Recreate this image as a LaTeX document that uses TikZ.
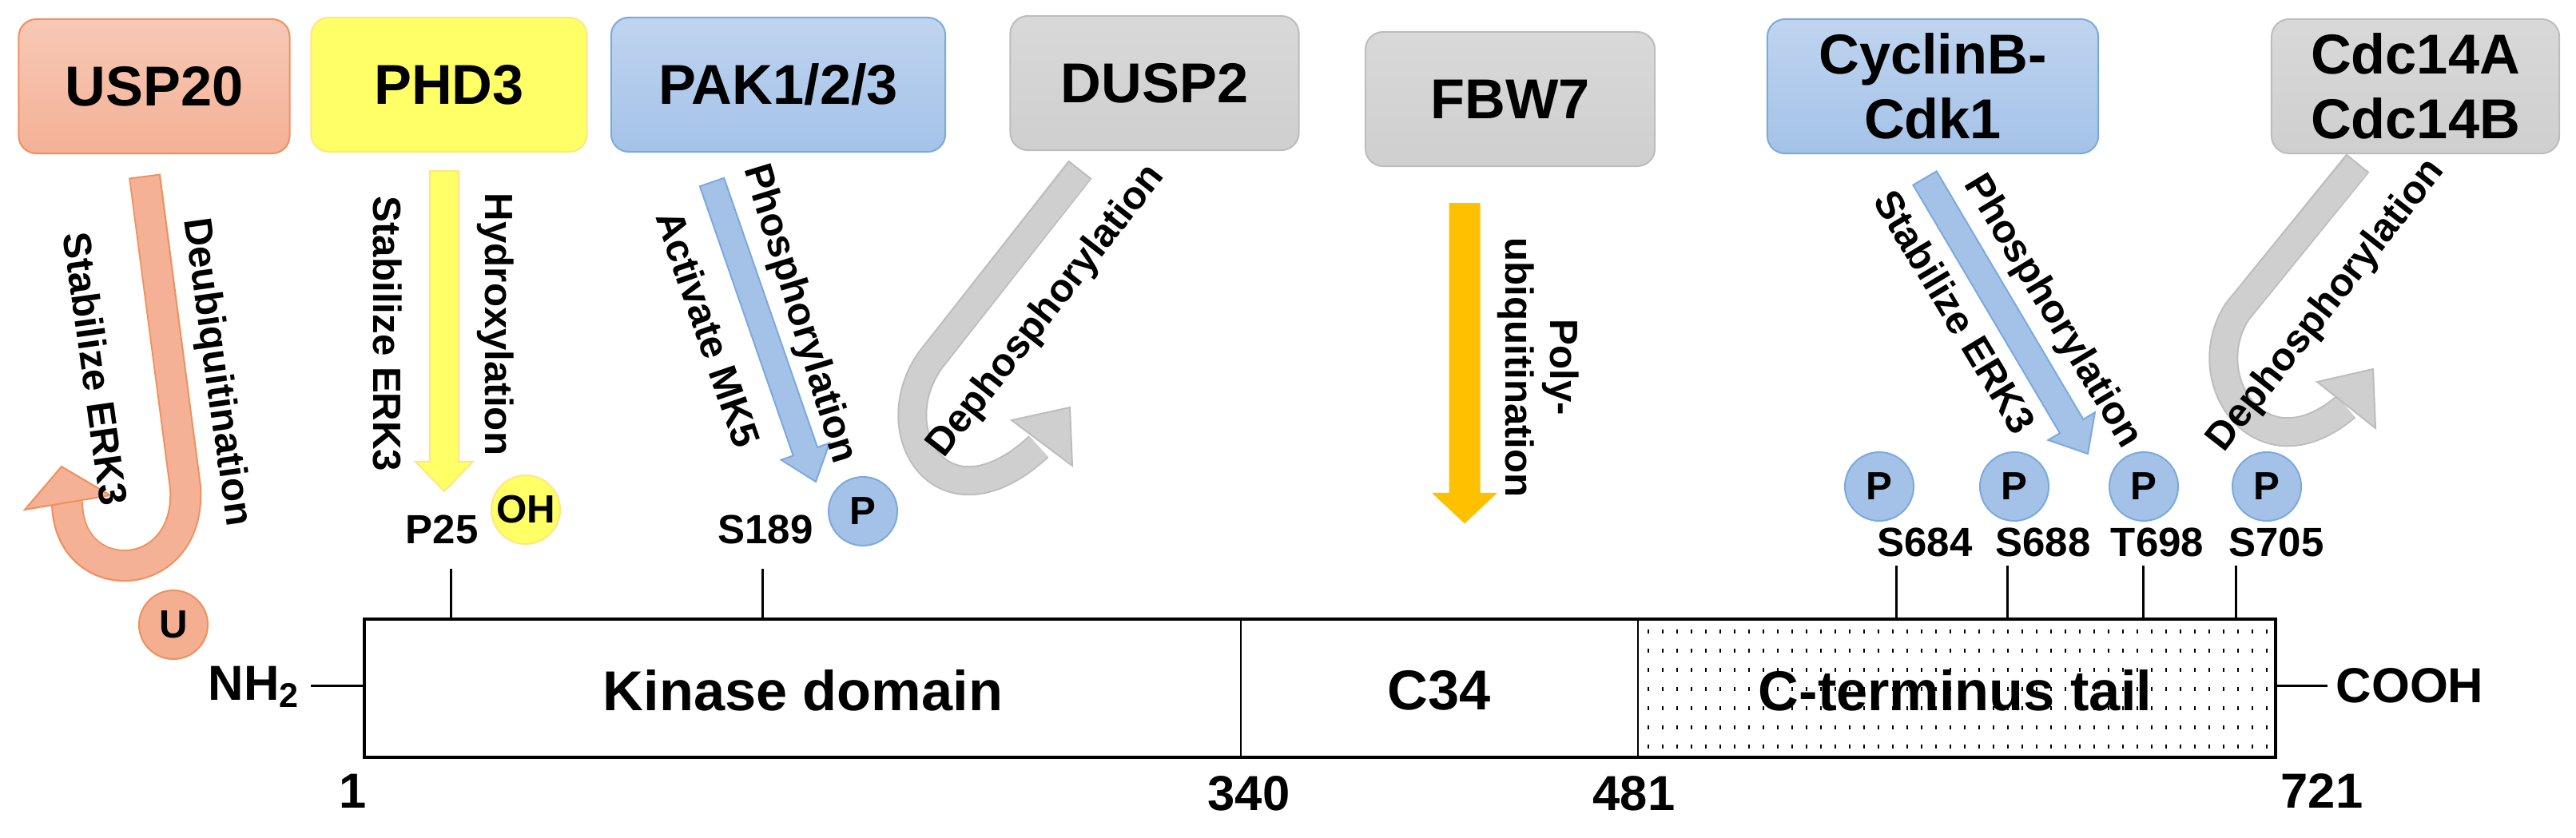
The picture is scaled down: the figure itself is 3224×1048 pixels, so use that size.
\documentclass[tikz,border=0pt]{standalone}
\usepackage{fontspec}
\setmainfont{Liberation Sans}
\usetikzlibrary{calc}
\definecolor{salF}{HTML}{F4B196}\definecolor{salD}{HTML}{F0905C}
\definecolor{yelF}{HTML}{FFFF66}\definecolor{yelD}{HTML}{FFE680}
\definecolor{bluF}{HTML}{A4C2E8}\definecolor{bluD}{HTML}{7AAADC}
\definecolor{gryF}{HTML}{CFCFCF}\definecolor{gryD}{HTML}{BDBDBD}
\definecolor{orgF}{HTML}{FFC000}
\newcommand\fatarrow[7]{% A B halfwidth headhalfwidth headlen fill draw
  \coordinate (fa-H) at ($(#2)!#5!(#1)$);
  \filldraw[fill=#6,draw=#7,line width=0.02cm,line join=miter]
   ($(#1)!#3!90:(#2)$) -- ($(fa-H)!#3!90:(#2)$) -- ($(fa-H)!#4!90:(#2)$) -- (#2)
   -- ($(fa-H)!#4!-90:(#2)$) -- ($(fa-H)!#3!-90:(#2)$) -- ($(#1)!#3!-90:(#2)$) -- cycle;}
\begin{document}
\begin{tikzpicture}[x=0.01cm,y=-0.01cm,
  box/.style={rounded corners=0.22cm,minimum width=#1,minimum height=1.68cm,align=center,
     font=\fontsize{20}{23}\selectfont\bfseries,line width=0.02cm},
  lab/.style={font=\fontsize{14}{16}\selectfont\bfseries,inner sep=0pt},
  site/.style={font=\fontsize{14.5}{16}\selectfont\bfseries,inner sep=0pt},
  ball/.style={circle,minimum size=0.86cm,inner sep=0pt,line width=0.02cm,font=\fontsize{14}{16}\selectfont\bfseries},
  big/.style={font=\fontsize{20}{22}\selectfont\bfseries,inner sep=0pt},
  num/.style={font=\fontsize{17.5}{20}\selectfont\bfseries,inner sep=0pt}]
\useasboundingbox (0,0) rectangle (3224,1048);
% boxes
\node[box=3.39cm,top color=salF!70!white,bottom color=salF,draw=salD] (usp) at (193,108) {USP20};
\node[box=3.45cm,fill=yelF,draw=yelD] (phd) at (562,106) {PHD3};
\node[box=4.18cm,top color=bluF!70!white,bottom color=bluF,draw=bluD] (pak) at (974,106) {PAK1/2/3};
\node[box=3.61cm,top color=gryF!80!white,bottom color=gryF,draw=gryD] (dusp) at (1445,104) {DUSP2};
\node[box=3.62cm,top color=gryF!80!white,bottom color=gryF,draw=gryD] (fbw) at (1890,124) {FBW7};
\node[box=4.14cm,top color=bluF!70!white,bottom color=bluF,draw=bluD] (cyc) at (2419,108) {CyclinB-\\Cdk1};
\node[box=3.60cm,top color=gryF!80!white,bottom color=gryF,draw=gryD] (cdc) at (3023,108) {Cdc14A\\Cdc14B};
% USP20 U-turn arrow
\draw[salD,line width=0.40cm] (181,220) -- (232,610) .. controls (240,735) and (84,740) .. (84,628);
\draw[salF,line width=0.36cm] (181,222) -- (232,610) .. controls (240,735) and (84,740) .. (84,627);
\filldraw[fill=salF,draw=salD,line width=0.02cm] (77,584) -- (138,620) -- (31,638) -- cycle;
% straight arrows
\coordinate (a1) at (556,214); \coordinate (b1) at (556,615);
\fatarrow{a1}{b1}{0.18cm}{0.36cm}{0.37cm}{yelF}{yelD}
\coordinate (a2) at (1833,255); \coordinate (b2) at (1833,654);
\fatarrow{a2}{b2}{0.185cm}{0.385cm}{0.36cm}{orgF}{orgF}
\coordinate (a3) at (891,228); \coordinate (b3) at (1021,603);
\fatarrow{a3}{b3}{0.16cm}{0.32cm}{0.40cm}{bluF}{bluD}
\coordinate (a4) at (2409,223); \coordinate (b4) at (2613,568);
\fatarrow{a4}{b4}{0.17cm}{0.34cm}{0.40cm}{bluF}{bluD}
% gray curved arrows
\draw[gryD,line width=0.37cm] (1352,212) -- (1165,450) .. controls (1100,540) and (1180,670) .. (1300,559);
\draw[gryF,line width=0.33cm] (1351,214) -- (1165,450) .. controls (1100,540) and (1180,670) .. (1300,559);
\filldraw[fill=gryF,draw=gryD,line width=0.02cm] (1339,510) -- (1342,583) -- (1266,526) -- cycle;
\draw[gryD,line width=0.37cm] (2951,204) -- (2800,390) .. controls (2745,475) and (2830,600) .. (2936,509);
\draw[gryF,line width=0.33cm] (2950,206) -- (2800,390) .. controls (2745,475) and (2830,600) .. (2936,509);
\filldraw[fill=gryF,draw=gryD,line width=0.02cm] (2970,462) -- (2973,536) -- (2900,478) -- cycle;
% arrow labels
\node[lab,rotate=-82] (l1) at (120,462) {Stabilize ERK3};
\node[lab,rotate=-82] (l2) at (270,466) {Deubiquitination};
\node[lab,rotate=-90] (l3) at (485,418) {Stabilize ERK3};
\node[lab,rotate=-90] (l4) at (620,406) {Hydroxylation};
\node[lab,rotate=-71] (l5) at (887,412) {Activate MK5};
\node[lab,rotate=-73] (l6) at (1000,393) {Phosphorylation};
\node[lab,rotate=52] (l7) at (1310,390) {Dephosphorylation};
\node[lab,rotate=-90,align=center] (l8) at (1925,460) {Poly-\\ubiquitination};
\node[lab,rotate=-59] (l9) at (2447,390) {Stabilize ERK3};
\node[lab,rotate=-59] (l10) at (2568,390) {Phosphorylation};
\node[lab,rotate=52] (l11) at (2912,383) {Dephosphorylation};
% modification balls
\node[ball,fill=salF!90!salD,draw=salD] (u) at (217,782) {U};
\node[ball,fill=yelF,draw=yelD] (oh) at (658,638) {OH};
\node[ball,fill=bluF,draw=bluD] (p1) at (1080,640) {P};
\node[ball,fill=bluF,draw=bluD] (p2) at (2352,609) {P};
\node[ball,fill=bluF,draw=bluD] (p3) at (2521,609) {P};
\node[ball,fill=bluF,draw=bluD] (p4) at (2683,609) {P};
\node[ball,fill=bluF,draw=bluD] (p5) at (2837,609) {P};
% sites
\node[site] (s1) at (553,663) {P25};
\node[site] (s2) at (958,663) {S189};
\node[site] (s3) at (2409,679) {S684};
\node[site] (s4) at (2557,679) {S688};
\node[site] (s5) at (2700,679) {T698};
\node[site] (s6) at (2849,679) {S705};
% bar
\foreach \i in {0,...,43}{\foreach \j in {0,...,6}{\fill (2062+\i*18,788+\j*24) rectangle ++(2,5);}}
\draw[line width=0.02cm] (1553,775) -- (1553,948) (2050,775) -- (2050,948);
\draw[line width=0.045cm] (456,775) rectangle (2848,948);
\foreach \x/\y in {564/712,954/712,2373/708,2512/708,2682/708,2798/708}{\draw[line width=0.03cm] (\x,\y) -- (\x,775);}
\node[big] (kd) at (1005,864) {Kinase domain};
\node[big] (c34) at (1801,864) {C34};
\node[big] (ct) at (2447,864) {C-terminus tail};
\node[num] (nh) at (318,860) {NH\textsubscript{2}};
\node[num] (co) at (3016,858) {COOH};
\coordinate (nhR) at (389,858); \coordinate (barL) at (456,858);
\draw[line width=0.03cm] (nhR) -- (barL);
\coordinate (coL) at (2913,858); \coordinate (barR) at (2848,858);
\draw[line width=0.03cm] (barR) -- (coL);
\node[num] (n1) at (442,990) {1};
\node[num] (n2) at (1563,993) {340};
\node[num] (n3) at (2045,993) {481};
\node[num] (n4) at (2906,990) {721};
\end{tikzpicture}
\end{document}
